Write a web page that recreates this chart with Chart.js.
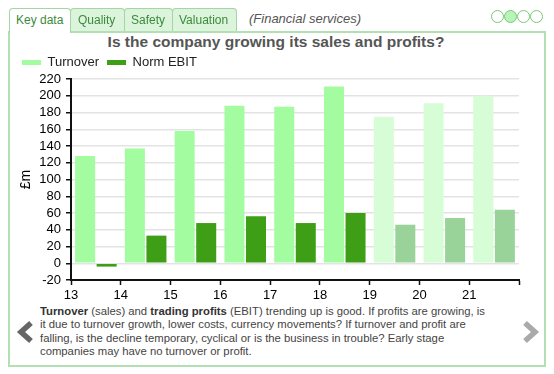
<!DOCTYPE html>
<html>
<head>
<meta charset="utf-8">
<script src="https://cdn.jsdelivr.net/npm/chart.js@4.4.1/dist/chart.umd.min.js"></script>
<style>
  body { margin: 0; width: 554px; height: 374px; background: #fff; position: relative; overflow: hidden;
         font-family: "Liberation Sans", Arial, Helvetica, sans-serif; }
  .panel { position: absolute; left: 8px; top: 31px; width: 538px; height: 336px; box-sizing: border-box;
           border: 2px solid #b3e0b3; }
  .tab { position: absolute; top: 8px; height: 23px; box-sizing: border-box; border: 1px solid #a3d6a3;
         border-bottom: none; border-radius: 4px 4px 0 0; background: #dcf3dc; color: #3b8b3b;
         font-size: 12px; line-height: 22px; padding-left: 6px; z-index: 2; }
  .tab.active { background: #fff; height: 25px; }
  .sector { position: absolute; left: 249px; top: 11px; font-size: 13px; font-style: italic; color: #555; }
  .dots { position: absolute; left: 491px; top: 10px; }
  .dot { position: absolute; top: 0; width: 13px; height: 13px; box-sizing: border-box; border-radius: 50%;
         border: 1.5px solid #79c979; background: #fff; }
  .dot.on { background: #b8f3b8; }
  .title { position: absolute; left: 0; width: 552px; top: 33px; text-align: center; font-weight: bold;
           font-size: 15.5px; line-height: 18px; color: #555; }
  .chart-box { position: absolute; left: 0; top: 48px; width: 554px; height: 256px; }
  .note { position: absolute; left: 40px; top: 305px; font-size: 11.3px; line-height: 13.3px; color: #444;
          white-space: nowrap; }
  .note b { color: #333; }
  svg.arrows { position: absolute; left: 0; top: 0; }
</style>
</head>
<body>
<div class="panel"></div>
<div class="tab active" style="left:9px;width:62px;">Key data</div>
<div class="tab" style="left:70px;width:55px;padding-left:7px;">Quality</div>
<div class="tab" style="left:124px;width:49px;">Safety</div>
<div class="tab" style="left:172px;width:65px;">Valuation</div>
<div class="sector">(Financial services)</div>
<div class="dots">
  <div class="dot" style="left:0px"></div>
  <div class="dot on" style="left:13px"></div>
  <div class="dot" style="left:26px"></div>
  <div class="dot" style="left:39px"></div>
</div>
<div class="title">Is the company growing its sales and profits?</div>
<div class="chart-box"><canvas id="growthChart"></canvas></div>
<div class="note">
  <b>Turnover</b> (sales) and <b>trading profits</b> (EBIT) trending up is good. If profits are growing, is<br>
  it due to turnover growth, lower costs, currency movements? If turnover and profit are<br>
  falling, is the decline temporary, cyclical or is the business in trouble? Early stage<br>
  companies may have no turnover or profit.
</div>
<svg class="arrows" width="554" height="374">
  <polyline points="31,323 21,332 31,341" fill="none" stroke="#666" stroke-width="5.5" stroke-linejoin="miter"/>
  <polyline points="525,323 535,332 525,341" fill="none" stroke="#aaa" stroke-width="5.5" stroke-linejoin="miter"/>
</svg>

<script>
// Anos (início de cada barra) e valores em £m
const years = [13, 14, 15, 16, 17, 18, 19, 20, 21];
const turnover = [128, 137, 158, 188, 187, 211, 175, 191, 200];
const normEbit = [-4, 33, 48, 56, 48, 60, 46, 54, 64];
// últimos três anos são previsões (cores mais claras)
const isForecast = [false, false, false, false, false, false, true, true, true];
const yMin = -20, yMax = 220, yStep = 20;
const xMin = 13, xMax = 22;

function initChart() {
    const ctx = document.getElementById('growthChart').getContext('2d');
    const font = "'Liberation Sans', Arial, Helvetica, sans-serif";

    new Chart(ctx, {
        type: 'bar',
        data: {
            datasets: [
                {
                    label: 'Turnover',
                    data: years.map((y, i) => ({ x: y + 0.5, y: turnover[i] })),
                    backgroundColor: isForecast.map(f => f ? '#d6fdd5' : '#a4fca1'),
                    categoryPercentage: 0.865,
                    barPercentage: 0.93
                },
                {
                    label: 'Norm EBIT',
                    data: years.map((y, i) => ({ x: y + 0.5, y: normEbit[i] })),
                    backgroundColor: isForecast.map(f => f ? '#99d399' : '#3e9f16'),
                    categoryPercentage: 0.865,
                    barPercentage: 0.93
                }
            ]
        },
        options: {
            responsive: true,
            maintainAspectRatio: false,
            animation: false,
            layout: { padding: { left: 14, right: 35, top: 0, bottom: 0 } },
            scales: {
                x: {
                    type: 'linear',
                    min: xMin,
                    max: xMax,
                    offset: false,
                    afterFit: s => { s.height = 24; },
                    grid: { offset: false, drawOnChartArea: false, drawTicks: true, tickLength: 5,
                            tickColor: '#111', tickWidth: 1.5 },
                    border: { color: '#111', width: 2 },
                    ticks: {
                        stepSize: 1,
                        maxRotation: 0,
                        autoSkip: false,
                        padding: 3,
                        color: '#000',
                        font: { family: font, size: 13 },
                        callback: v => v === xMax ? '' : v
                    }
                },
                y: {
                    min: yMin,
                    max: yMax,
                    afterFit: s => { s.width = 57; },
                    grid: { color: '#e3e3e3', lineWidth: 1.5, tickLength: 5, tickColor: '#111', tickWidth: 1.5 },
                    border: { color: '#111', width: 2 },
                    ticks: {
                        stepSize: yStep,
                        autoSkip: false,
                        padding: 5,
                        color: '#000',
                        font: { family: font, size: 13 }
                    },
                    title: {
                        display: true,
                        text: '£m',
                        color: '#000',
                        font: { family: font, size: 14 },
                        padding: { top: 4, bottom: 4 }
                    }
                }
            },
            plugins: {
                legend: {
                    display: true,
                    position: 'top',
                    align: 'start',
                    labels: {
                        boxWidth: 19,
                        boxHeight: 5,
                        padding: 8,
                        color: '#222',
                        font: { family: font, size: 13 }
                    }
                },
                title: { display: false },
                tooltip: { enabled: false }
            }
        }
    });
}

document.addEventListener('DOMContentLoaded', initChart);
</script>
</body>
</html>
